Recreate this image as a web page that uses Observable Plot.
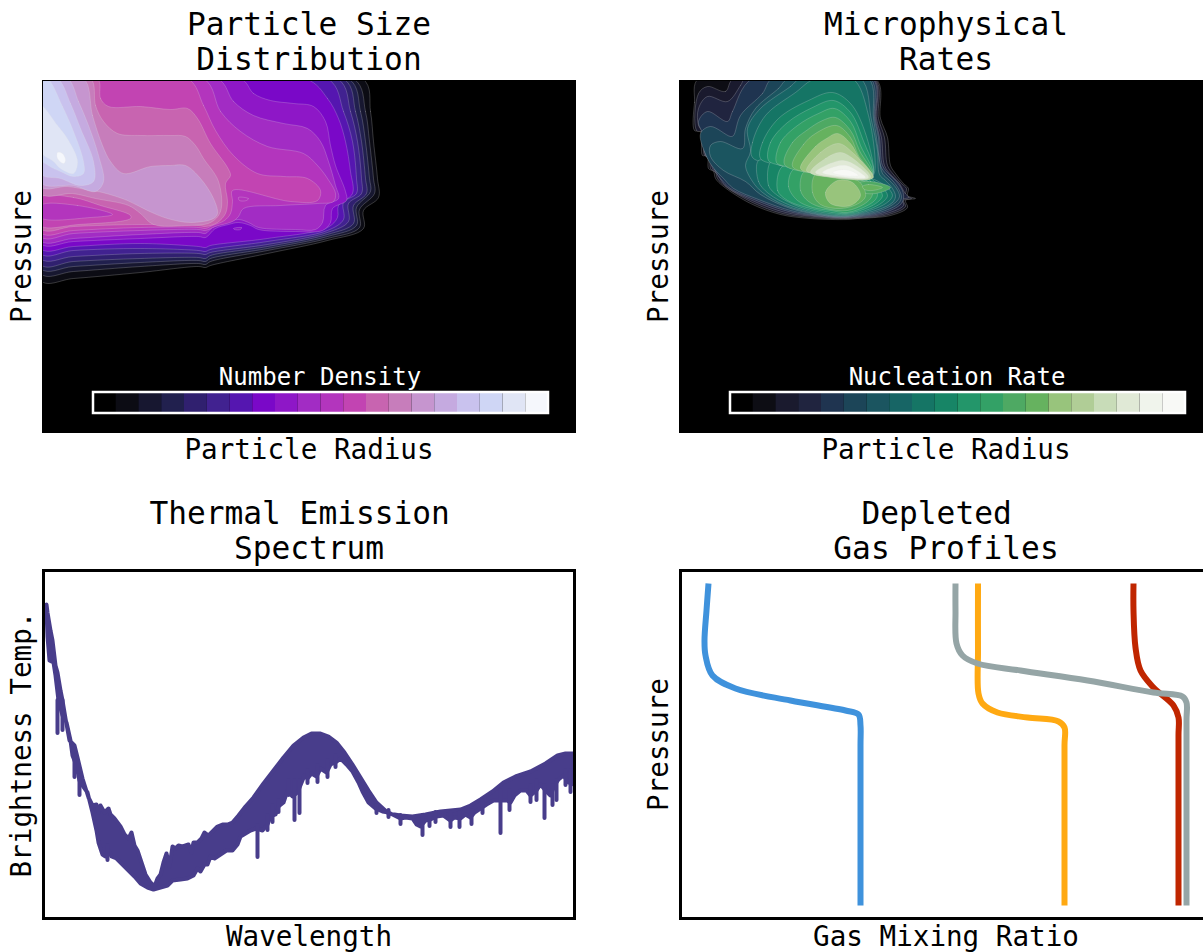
<!DOCTYPE html>
<html><head><meta charset="utf-8">
<script src="https://cdn.jsdelivr.net/npm/d3@7"></script>
<script src="https://cdn.jsdelivr.net/npm/@observablehq/plot@0.6"></script>
<style>
html,body{margin:0;padding:0;background:#fff;width:1203px;height:952px;overflow:hidden}
#page{position:relative;width:1203px;height:952px;overflow:hidden}
#page svg{position:absolute;overflow:hidden}
</style></head><body><div id="page"></div>
<script>
const FONT = "'DejaVu Sans Mono'";
// colour levels of the two filled-contour panels (one per colour-bar bin)
const densityPalette = ["#000000","#0c0c14","#171730","#21204e","#30206f","#412290","#5516b0","#7a08c8","#8e17c7","#a22cc4","#b335bd","#c244b2","#c864b0","#c77dbb","#c695cf","#c5aae0","#c9c2ee","#cfd6f5","#e0e5f5","#f5f7fc"];
const ratePalette = ["#000000","#0d0d14","#1a1a2e","#20243f","#1f3450","#1c4558","#1b5560","#176565","#157565","#178566","#23966a","#33a166","#4ea963","#66b25f","#98c47c","#b0cd96","#c8dcb8","#e0e9d6","#f0f4ec","#f8f9f6"];

// contour rings: [level, [[radius, pressure], ...]], in drawing order
const densityRings = [
[1,[[362,78],[370,111],[373,141],[377,178],[378,197],[363,210],[363,228],[327,240],[267,253],[210,265],[205,267],[198,266],[140,272],[73,278],[40,280],[40,78]]],
[2,[[353,78],[365,111],[369,141],[373,178],[374,193],[359,209],[359,227],[327,238],[267,250],[210,261],[205,264],[198,263],[140,266],[73,271],[40,273],[40,78]]],
[3,[[348,78],[360,111],[365,141],[369,178],[370,191],[356,207],[356,225],[327,236],[267,248],[210,258],[205,261],[198,260],[140,262],[73,266],[40,268],[40,78]]],
[4,[[343,78],[355,111],[361,141],[365,178],[366,193],[353,205],[353,223],[327,234],[267,246],[210,255],[205,258],[198,257],[140,258],[73,261],[40,264],[40,78]]],
[5,[[337,78],[350,111],[357,141],[361,178],[361,193],[348,203],[348,221],[327,232],[267,244],[210,252],[205,254],[198,253],[140,253],[73,256],[40,258],[40,78]]],
[6,[[327,78],[343,111],[352,141],[356,178],[356,193],[343,202],[343,219],[327,230],[267,241],[210,249],[205,251],[198,250],[140,248],[73,250],[40,253],[40,78]]],
[7,[[305,78],[327,98],[338,118],[345,141],[350,171],[352,193],[338,205],[337,217],[327,227],[267,238],[210,245],[205,247],[198,246],[140,243],[73,246],[40,248],[40,78]]],
[8,[[240,78],[253,93],[270,100],[293,103],[313,106],[325,121],[330,145],[335,165],[345,191],[346,200],[332,208],[330,222],[322,230],[295,231],[258,229],[250,225],[238,222],[228,224],[215,228],[205,237],[198,236],[140,238],[73,241],[40,243],[40,78]]],
[9,[[217,78],[233,101],[253,115],[283,123],[307,128],[320,141],[328,161],[335,185],[338,198],[325,205],[322,222],[315,229],[295,229],[258,227],[248,222],[238,219],[226,222],[212,227],[205,233],[198,232],[140,234],[73,238],[40,240],[40,78]]],
[10,[[203,78],[220,111],[240,131],[267,146],[303,153],[317,165],[327,178],[335,193],[333,201],[317,203],[280,205],[243,208],[238,216],[232,221],[215,226],[205,230],[198,229],[140,230],[73,233],[40,236],[40,78]]],
[11,[[187,78],[203,105],[215,130],[233,155],[257,173],[283,176],[307,178],[320,190],[317,200],[290,201],[232,190],[232,201],[230,213],[224,220],[212,225],[205,228],[198,227],[140,227],[73,230],[40,232],[40,78]]],
[10,[[238,197],[248,198],[246,200],[239,200]]],
[8,[[233,228],[241,227],[240,229],[234,229]]],
[12,[[97,78],[100,98],[108,106],[140,106],[170,109],[187,108],[197,118],[210,143],[227,167],[230,175],[225,183],[227,201],[225,213],[217,222],[205,226],[198,225],[140,224],[73,226],[40,228],[40,78]]],
[11,[[40,197],[73,197],[100,205],[130,215],[130,218],[78,224],[40,225]]],
[10,[[40,205],[77,205],[112,214],[90,217],[40,217]]],
[13,[[90,78],[95,105],[103,121],[117,133],[140,135],[170,135],[185,136],[195,145],[203,158],[218,181],[220,211],[210,222],[185,225],[153,224],[140,213],[128,205],[95,198],[72,193],[40,193],[40,78]]],
[14,[[83,78],[92,115],[102,145],[110,161],[123,173],[150,166],[170,165],[185,165],[200,178],[213,198],[217,213],[213,218],[190,222],[167,218],[147,210],[127,200],[102,192],[90,190],[67,186],[40,186],[40,78]]],
[15,[[67,78],[78,101],[88,125],[98,155],[103,181],[95,191],[73,185],[40,182],[40,78]]],
[16,[[57,78],[70,103],[80,128],[93,161],[93,181],[80,185],[60,178],[40,173],[40,78]]],
[17,[[47,78],[62,106],[73,131],[83,161],[83,173],[73,176],[60,171],[48,165],[40,158],[40,78]]],
[18,[[40,105],[57,125],[68,140],[77,161],[73,173],[60,168],[53,161],[40,151]]],
[19,[[57,152],[62,153],[65,160],[63,163],[57,158]]]
];
const rateRings = [
[1,[[698,78],[694,102],[694,130],[700,131],[702,155],[707,155],[708,168],[713,171],[715,178],[723,186],[750,203],[780,214],[810,218],[847,219],[857,218],[890,215],[907,207],[905,200],[915,198],[907,195],[908,188],[903,183],[895,173],[890,165],[887,137],[880,118],[875,78]]],
[2,[[733,78],[725,91],[707,86],[698,93],[696,130],[702,132],[704,155],[709,157],[710,168],[715,172],[717,178],[725,186],[752,202],[782,213],[812,217],[847,218],[888,214],[905,206],[903,200],[911,198],[905,195],[906,188],[901,183],[893,174],[887,165],[884,137],[878,118],[874,78]]],
[3,[[745,78],[740,85],[727,101],[707,96],[698,108],[698,125],[703,133],[705,155],[710,160],[712,168],[717,174],[720,179],[727,187],[754,201],[785,212],[814,216],[847,217.5],[886,213],[903,205],[902,199],[908,197],[904,192],[899,183],[891,175],[884,165],[881,137],[876,118],[873,78]]],
[4,[[752,78],[732,111],[727,121],[707,111],[698,121],[702,133],[706,156],[712,164],[715,171],[720,178],[730,188],[756,200],[788,211],[816,215.5],[847,217],[884,212],[900,204],[903,198],[902,190],[896,181],[889,174],[882,165],[879,137],[875,118],[872,78]]],
[5,[[772,78],[762,93],[740,115],[733,135],[730,136],[710,126],[700,133],[707,158],[715,170],[722,177],[733,188],[758,199],[790,210],[818,215],[847,216.5],[882,211],[898,203],[901,197],[899,190],[893,181],[886,174],[880,165],[878,137],[874,118],[870,78]]],
[6,[[788,78],[778,88],[755,108],[745,128],[742,148],[720,141],[710,145],[710,156],[723,170],[745,181],[760,194],[790,208],[820,214.5],[847,216],[880,210],[895,202],[899,196],[896,188],[889,180],[882,173],[879,160],[876,137],[873,118],[868,78]]],
[7,[[800,78],[790,86],[760,108],[747,128],[750,151],[745,165],[752,181],[762,192],[785,205],[820,214],[847,215.5],[878,209],[892,202],[895,196],[892,188],[885,180],[879,174],[877,150],[871,120],[860,78]]],
[8,[[752,157],[752,142],[765,115],[795,92],[815,78],[852,78],[868,115],[874,172],[870,177],[840,178],[813,173],[780,165]]],
[8,[[758,160],[758,181],[768,193],[790,205],[820,213],[847,215],[875,208],[888,201],[892,195],[888,188],[878,181],[870,178],[840,178],[813,173],[780,165]]],
[9,[[760,158],[762,142],[778,118],[808,100],[832,92],[850,103],[864,130],[873,172],[870,177],[840,178],[813,173],[780,165]]],
[9,[[770,162],[768,185],[777,195],[798,206],[822,212],[847,214],[873,207],[884,200],[887,195],[882,187],[874,181],[870,178],[840,178],[813,173],[780,165]]],
[10,[[768,160],[770,142],[787,122],[812,107],[833,100],[850,112],[862,138],[872,174],[840,178],[813,173],[780,165]]],
[10,[[782,166],[777,190],[787,200],[806,207],[825,211],[847,213],[870,206],[879,200],[882,195],[877,187],[870,181],[868,178],[840,178],[813,173]]],
[11,[[776,162],[780,142],[797,125],[818,113],[834,108],[850,121],[860,145],[872,175],[840,178],[813,173],[785,166]]],
[11,[[793,169],[788,186],[797,200],[812,207],[830,210],[847,212],[867,205],[875,199],[877,194],[873,187],[866,180],[840,178],[813,173]]],
[12,[[784,164],[792,142],[806,130],[822,120],[835,117],[850,130],[859,150],[872,176],[840,178],[813,173]]],
[12,[[803,172],[800,190],[808,201],[825,208],[847,210],[863,204],[870,198],[872,193],[868,185],[862,180],[840,178],[813,173]]],
[12,[[858,183],[870,181],[890,187],[875,193],[860,191]]],
[13,[[792,166],[803,144],[815,133],[836,125],[850,137],[858,155],[872,177],[840,178],[813,173]]],
[13,[[815,174],[812,192],[820,204],[840,208],[858,203],[865,196],[863,187],[857,180],[840,178]]],
[13,[[862,186],[868,184],[882,187],[872,190],[864,189]]],
[14,[[800,168],[815,146],[826,138],[837,133],[850,143],[860,160],[873,177],[840,178],[813,173]]],
[14,[[837,180],[825,192],[830,203],[850,205],[860,195],[852,182]]],
[15,[[806,170],[820,152],[838,143],[852,152],[872,177],[840,178],[813,173]]],
[16,[[810,172],[825,158],[840,152],[855,160],[870,177],[835,177]]],
[17,[[815,172],[830,163],[843,160],[857,166],[868,177],[840,177]]],
[18,[[822,172],[835,166],[846,165],[858,171],[865,177],[840,176]]],
[19,[[832,172],[842,169],[852,171],[858,175],[842,175]]]
];

// thermal emission spectrum: upper and lower edge of the densely sampled curve, and its deepest lines
const spectrumUpper = [[46,604],[47,612],[50,630],[52,640],[55,665],[57,672],[60,690],[62,700],[65,718],[69,740],[74,745],[77,757],[82,778],[88,797],[92,805],[96,804],[98,812],[100,805],[104,812],[108,808],[110,814],[114,818],[120,826],[124,834],[128,838],[131,832],[134,845],[137,850],[141,862],[145,874],[150,882],[154,886],[157,878],[160,874],[163,862],[166,853],[169,866],[172,846],[175,848],[178,845],[182,846],[188,844],[191,852],[193,842],[197,842],[201,838],[204,832],[208,835],[213,830],[217,826],[222,824],[227,824],[232,822],[238,815],[245,806],[253,797],[263,783],[273,770],[283,757],[293,745],[303,737],[311,733],[320,733],[328,736],[336,742],[344,752],[352,764],[360,777],[368,790],[376,802],[388,813],[400,815],[412,816],[425,814],[440,811],[460,809],[470,805],[480,799],[492,791],[503,782],[515,776],[530,771],[545,763],[557,755],[565,753],[578,753]];
const spectrumLower = [[46,610],[47,636],[49,660],[53,662],[55,675],[58,700],[62,715],[66,722],[70,740],[72,755],[76,765],[79,780],[82,785],[87,792],[92,812],[96,830],[98,842],[102,854],[105,856],[108,850],[111,856],[116,858],[122,864],[128,870],[134,876],[140,883],[147,887],[153,889],[160,887],[167,885],[172,880],[180,879],[187,878],[193,875],[197,868],[200,871],[204,864],[207,864],[210,856],[214,858],[220,854],[226,850],[232,850],[237,844],[240,836],[245,833],[250,830],[256,828],[262,830],[267,824],[270,816],[275,814],[278,806],[283,802],[287,790],[292,796],[297,792],[304,775],[307,778],[311,773],[316,776],[320,768],[326,772],[330,764],[335,762],[340,758],[346,764],[352,771],[358,782],[362,791],[368,802],[375,808],[382,811],[388,812],[394,815],[400,818],[405,817],[412,818],[416,824],[420,826],[425,820],[430,819],[436,816],[443,815],[450,820],[454,817],[460,818],[465,814],[470,817],[474,812],[480,808],[486,804],[493,800],[500,800],[507,800],[510,802],[514,795],[520,790],[526,790],[530,795],[536,790],[540,784],[545,790],[550,795],[554,785],[558,779],[563,775],[568,782],[578,786]];
const spectrumLines = [[57,700,733],[62,700,730],[74,755,777],[79,775,795],[107,845,860],[257,825,857],[267,815,830],[272,805,822],[278,800,812],[288,780,795],[294,780,820],[299,780,813],[307,770,783],[317,765,782],[327,760,777],[335,755,767],[376,805,813],[388,810,817],[400,815,824],[422,815,835],[429,815,826],[435,812,822],[450,812,827],[459,812,827],[471,810,824],[482,800,813],[500,790,833],[509,790,810],[530,785,802],[536,780,800],[544,785,818],[552,785,805],[556,780,800],[565,770,785],[570,770,792]];

// depleted gas profiles: [mixing ratio, pressure]
const gasBlue = [[708,583],[706,610],[704,640],[705,655],[712,675],[735,688],[790,700],[845,710],[858,714],[860,725],[860,745],[860,905]];
const gasOrange = [[977.5,583],[977.5,650],[978,693],[982,703],[997,712],[1027,717],[1058,721],[1064,727],[1064,745],[1064,905]];
const gasRed = [[1133,583],[1133,610],[1135,647],[1140,670],[1153,687],[1173,705],[1178,717],[1178,735],[1178,905]];
const gasGray = [[955,583],[955,610],[956,643],[962,655],[977,663],[1020,670],[1087,680],[1153,692],[1182,696],[1186,702],[1186,720],[1186,905]];
const gasSeries = [["#3f92dc",gasBlue],["#ffa912",gasOrange],["#c02600",gasRed],["#95a5a6",gasGray]];

const titles = ["Particle Size\nDistribution","Microphysical\nRates","Thermal Emission\u00a0\nSpectrum","Depleted\u00a0\nGas Profiles"];
const xLabels = ["Particle Radius","Particle Radius","Wavelength","Gas Mixing Ratio"];
const yLabels = ["Pressure","Pressure","Brightness Temp.","Pressure"];
const barLabels = ["Number Density","Nucleation Rate"];

function labels(i){
  const base = {fontFamily:FONT, fill:"#000"};
  return [
    Plot.text([titles[i]],{...base,text:d=>d,frameAnchor:"top",dy:-40,fontSize:31.2,lineHeight:1.13,lineAnchor:"middle",textAnchor:"middle"}),
    Plot.text([xLabels[i]],{...base,text:d=>d,frameAnchor:"bottom",dy:19,fontSize:27.6,lineAnchor:"middle",textAnchor:"middle"}),
    Plot.text([yLabels[i]],{...base,text:d=>d,frameAnchor:"left",dx:-21,fontSize:27.6,rotate:-90,lineAnchor:"middle",textAnchor:"middle"})
  ];
}
function flat(rings){
  const rows=[];
  rings.forEach(([level,pts],ring)=>pts.forEach(([x,y])=>rows.push({ring,level,x,y})));
  return rows;
}
function panel(left,top,height,mt,xd,yd,marks){
  const svg = Plot.plot({
    width:xd[1]-xd[0]+44+30,height,marginLeft:44,marginTop:mt,marginRight:30,marginBottom:height-mt-(yd[0]-yd[1]),
    x:{domain:xd,axis:null},y:{domain:yd,axis:null},
    color:marks.color, style:{background:"transparent",overflow:"hidden"},
    marks:marks.list
  });
  svg.style.left=left+"px";svg.style.top=top+"px";
  document.getElementById("page").appendChild(svg);
}
function contourPanel(i,left,xd,rings,palette){
  const levels=d3.range(palette.length);
  const barX0=xd[0]+50, step=22.75;
  panel(left,0,476,81,xd,[431,81],{
    color:{type:"ordinal",domain:levels,range:palette},
    list:[
      Plot.frame({fill:"#000",stroke:"#000",strokeWidth:3}),
      Plot.line(flat(rings),{x:"x",y:"y",z:"ring",fill:"level",stroke:"#e6e6e6",strokeWidth:0.45,strokeOpacity:0.5,curve:"catmull-rom-closed",clip:"frame"}),
      Plot.rect(levels,{x1:d=>barX0+d*step,x2:d=>barX0+(d+1)*step,y1:392,y2:413,fill:d=>d}),
      Plot.rect([0],{x1:barX0,x2:barX0+20*step,y1:392,y2:413,fill:"none",stroke:"#fff",strokeWidth:2.5}),
      Plot.text([barLabels[i]],{x:barX0+10*step-1,y:377,text:d=>d,fill:"#fff",fontFamily:FONT,fontSize:24,lineAnchor:"middle",textAnchor:"middle"}),
      ...labels(i)
    ]
  });
}
contourPanel(0,-1,[43,574],densityRings,densityPalette);
contourPanel(1,636,[680,1211],rateRings,ratePalette);

const ringSpec=[...spectrumUpper,...[...spectrumLower].reverse()].map(([x,y])=>({x,y}));
panel(-1,480,472,90,[43,574],[918,570],{list:[
  Plot.frame({fill:"#fff"}),
  Plot.line(ringSpec,{x:"x",y:"y",fill:"#483d8b",stroke:"#483d8b",strokeWidth:4,strokeLinejoin:"round",curve:"linear-closed",clip:"frame"}),
  Plot.ruleX(spectrumLines,{x:d=>d[0],y1:d=>d[1],y2:d=>d[2],stroke:"#483d8b",strokeWidth:4,strokeLinecap:"round",clip:"frame"}),
  Plot.frame({stroke:"#000",strokeWidth:3}),
  ...labels(2)
]});
const gasRows=gasSeries.flatMap(([color,pts],s)=>pts.map(([x,y])=>({s,color,x,y})));
panel(636,480,472,90,[680,1211],[918,570],{
  color:{type:"ordinal",domain:gasSeries.map(d=>d[0]),range:gasSeries.map(d=>d[0])},
  list:[
  Plot.line(gasRows,{x:"x",y:"y",z:"s",stroke:"color",strokeWidth:6,curve:"catmull-rom",strokeLinejoin:"round",strokeLinecap:"butt"}),
  Plot.frame({stroke:"#000",strokeWidth:3}),
  ...labels(3)
]});
</script></body></html>
